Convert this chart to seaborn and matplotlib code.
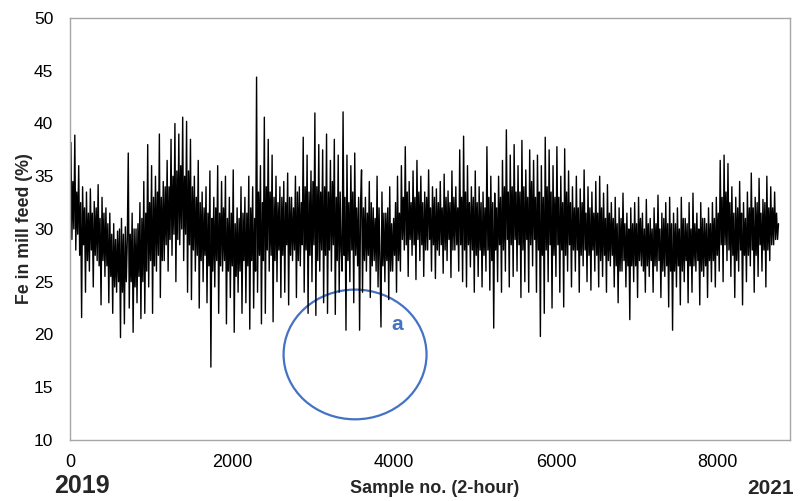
import numpy as np
import pandas as pd
import matplotlib
matplotlib.use("Agg")
import matplotlib.pyplot as plt
from matplotlib.patches import Ellipse
import seaborn as sns

# Fe content of the mill feed, one reading every 12 samples (2-hour sampling)
SAMPLE_STEP = 12
fe_in_feed = [
    31.5, 38.2, 29.0, 34.5, 30.0, 38.9, 28.0, 33.5, 29.5, 36.0, 27.5, 32.5, 21.6, 34.0, 28.5, 32.0, 24.0, 33.5, 27.0, 31.5,
    26.0, 33.8, 28.0, 31.5, 24.5, 32.6, 27.5, 32.0, 27.0, 34.2, 26.5, 31.0, 22.8, 33.0, 27.0, 31.5, 25.5, 32.0, 26.5, 30.5,
    23.0, 31.5, 25.5, 29.5, 22.0, 30.5, 24.5, 29.0, 24.0, 29.8, 25.0, 30.0, 19.7, 31.0, 24.0, 29.5, 21.0, 30.2, 25.0, 29.0,
    37.2, 22.5, 29.5, 25.0, 31.5, 20.2, 30.0, 24.5, 30.0, 23.0, 30.5, 25.5, 32.5, 21.5, 31.0, 25.0, 34.5, 22.0, 31.5, 26.0,
    38.0, 24.5, 32.5, 27.0, 36.0, 22.0, 33.0, 26.5, 35.0, 26.0, 33.5, 27.5, 39.0, 23.5, 33.0, 27.0, 34.5, 27.0, 34.0, 28.5,
    36.5, 26.0, 34.0, 29.0, 38.5, 27.5, 35.0, 29.5, 40.0, 25.0, 35.5, 29.0, 39.0, 28.5, 36.0, 30.0, 40.6, 27.0, 35.0, 29.5,
    40.2, 24.0, 35.5, 28.5, 38.5, 23.3, 34.0, 28.0, 35.0, 26.0, 33.0, 27.5, 36.5, 22.5, 32.5, 27.0, 33.5, 25.0, 32.0, 27.5,
    34.0, 23.0, 31.5, 26.5, 35.5, 16.9, 31.0, 26.0, 33.0, 24.5, 32.0, 27.0, 36.0, 22.0, 31.5, 26.5, 34.5, 26.0, 32.0, 27.0,
    35.0, 21.0, 31.0, 26.0, 33.0, 23.5, 31.5, 26.5, 35.6, 20.2, 30.5, 25.5, 32.0, 24.0, 31.0, 26.0, 34.0, 22.0, 31.5, 27.0,
    33.0, 23.0, 31.5, 26.5, 35.0, 20.5, 32.0, 27.0, 34.0, 22.5, 31.0, 26.0, 44.4, 24.0, 33.5, 27.5, 36.0, 21.0, 32.5, 27.0,
    40.6, 22.0, 34.0, 28.0, 38.5, 26.0, 33.5, 27.5, 37.0, 21.2, 33.0, 27.0, 35.0, 25.0, 32.5, 28.0, 34.0, 23.5, 33.0, 27.5,
    34.5, 24.0, 32.5, 28.5, 35.3, 22.8, 33.0, 27.5, 33.0, 27.0, 32.0, 28.0, 35.0, 23.5, 33.5, 27.0, 34.0, 26.5, 32.5, 28.5,
    38.7, 24.0, 34.0, 28.0, 37.0, 22.0, 33.5, 27.5, 35.5, 25.0, 34.5, 28.5, 41.0, 21.8, 34.0, 27.0, 38.0, 26.0, 33.5, 28.0,
    37.5, 23.0, 34.0, 27.5, 39.0, 22.0, 33.5, 28.0, 36.5, 26.0, 34.5, 28.5, 38.5, 21.9, 33.0, 27.0, 37.0, 24.0, 33.5, 28.0,
    26.0, 41.1, 27.5, 33.0, 20.4, 37.0, 27.0, 32.5, 25.0, 36.0, 28.0, 33.5, 23.0, 37.2, 27.5, 32.0, 26.5, 33.0, 20.4, 32.5,
    35.6, 24.0, 32.0, 27.0, 33.0, 26.0, 31.5, 27.5, 34.5, 23.5, 32.5, 26.5, 32.0, 27.0, 31.0, 26.0, 35.0, 24.5, 32.0, 27.0,
    20.7, 33.5, 26.5, 31.5, 25.0, 31.5, 27.0, 32.0, 23.3, 34.0, 26.0, 30.5, 26.0, 31.0, 27.5, 32.5, 24.0, 35.0, 27.0, 31.5,
    26.0, 36.0, 29.0, 33.0, 28.0, 37.8, 28.5, 33.5, 25.5, 34.5, 29.0, 32.5, 27.5, 35.5, 28.5, 33.0, 25.2, 36.5, 29.0, 33.5,
    27.0, 35.0, 28.5, 32.5, 25.5, 33.5, 28.0, 33.0, 28.0, 35.6, 29.0, 32.0, 26.0, 34.0, 28.5, 33.0, 25.3, 33.8, 28.0, 32.5,
    27.5, 34.5, 28.5, 32.0, 25.8, 35.2, 28.0, 33.0, 27.0, 33.6, 29.0, 32.5, 25.4, 35.5, 28.0, 33.0, 28.0, 34.0, 28.5, 32.0,
    26.0, 37.5, 28.5, 33.0, 25.0, 38.8, 28.0, 33.5, 24.5, 36.0, 28.5, 32.5, 26.4, 34.0, 28.0, 33.0, 24.0, 35.5, 27.5, 32.5,
    25.5, 34.0, 28.0, 32.5, 24.5, 33.5, 27.5, 32.0, 26.0, 37.8, 28.0, 33.0, 24.2, 35.0, 27.0, 32.5, 20.6, 33.4, 28.0, 32.0,
    25.0, 35.0, 28.5, 33.0, 24.0, 36.5, 28.0, 34.0, 26.0, 39.4, 29.0, 33.5, 24.5, 37.0, 28.5, 34.0, 25.5, 38.0, 29.0, 33.5,
    26.0, 36.0, 28.5, 33.5, 23.5, 38.4, 28.0, 34.0, 25.0, 35.6, 29.0, 33.0, 24.0, 37.5, 28.5, 34.5, 26.5, 36.5, 29.0, 33.0,
    24.0, 37.0, 28.0, 33.5, 19.8, 36.0, 27.5, 33.0, 22.0, 38.7, 28.0, 34.0, 25.0, 37.5, 28.5, 33.5, 22.5, 36.0, 27.5, 33.0,
    25.5, 37.8, 28.5, 33.0, 24.0, 35.0, 28.0, 32.5, 22.6, 37.6, 27.5, 33.5, 26.0, 35.5, 28.5, 32.5, 24.5, 34.0, 28.0, 32.0,
    26.0, 35.0, 28.0, 32.0, 24.0, 33.8, 27.5, 32.5, 26.5, 35.6, 28.0, 31.5, 25.0, 34.0, 27.5, 32.0, 24.2, 33.5, 28.0, 31.5,
    26.0, 34.5, 27.5, 31.5, 24.5, 35.0, 27.0, 32.0, 25.5, 33.4, 27.5, 31.0, 24.0, 34.2, 27.0, 31.5, 26.5, 32.5, 27.5, 31.0,
    24.5, 33.0, 26.5, 30.5, 23.0, 32.0, 26.0, 31.0, 26.0, 33.4, 27.0, 30.5, 24.5, 31.5, 26.5, 30.0, 21.4, 32.0, 26.5, 30.5,
    25.0, 32.5, 26.5, 30.5, 23.5, 33.0, 27.0, 31.0, 26.5, 31.5, 26.0, 30.0, 24.0, 32.8, 26.5, 30.5, 25.5, 31.0, 27.0, 30.0,
    24.0, 32.0, 26.5, 30.5, 26.0, 33.2, 27.0, 30.0, 23.5, 31.5, 26.0, 31.0, 25.5, 32.5, 26.5, 30.5, 22.6, 33.0, 26.0, 30.5,
    20.4, 31.5, 26.0, 30.5, 24.5, 32.0, 26.5, 30.0, 22.8, 33.0, 26.0, 31.0, 25.0, 31.0, 27.0, 30.5, 23.0, 32.5, 26.5, 30.0,
    24.0, 33.4, 26.5, 30.5, 26.0, 31.5, 27.0, 30.0, 22.8, 32.5, 26.0, 31.0, 25.5, 31.0, 26.5, 30.5, 23.5, 32.0, 27.0, 30.5,
    25.0, 32.5, 27.0, 31.0, 24.5, 33.0, 27.5, 31.5, 26.0, 36.5, 28.5, 33.0, 25.0, 37.0, 28.5, 33.5, 27.0, 36.2, 28.0, 32.5,
    25.5, 34.0, 27.5, 31.5, 23.5, 33.0, 27.0, 32.0, 26.0, 34.5, 28.0, 31.5, 22.8, 32.5, 27.5, 31.0, 25.0, 33.5, 27.5, 32.0,
    26.5, 35.3, 28.0, 32.0, 24.0, 33.0, 27.5, 32.5, 25.5, 34.8, 28.5, 31.5, 26.0, 32.8, 28.0, 32.5, 24.5, 35.0, 28.0, 32.0,
    27.0, 34.0, 28.5, 32.0, 28.5, 33.5, 29.0, 31.5, 29.0, 30.5,
]

y_ticks = [10, 15, 20, 25, 30, 35, 40, 45, 50]
x_ticks = [0, 2000, 4000, 6000, 8000]
x_max = 8890
start_year, end_year = "2019", "2021"

# Highlighted low-grade region "a"
region_center = (3520, 18.1)
region_size = (1765, 12.3)
region_label_pos = (4040, 20.9)

df = pd.DataFrame({
    "sample": np.arange(len(fe_in_feed)) * SAMPLE_STEP,
    "fe": fe_in_feed,
})

sns.set_style("white")
plt.rcParams["font.family"] = ["Liberation Sans", "DejaVu Sans"]

fig = plt.figure(figsize=(8.04, 5.01), dpi=100)
ax = fig.add_axes([0.087, 0.122, 0.8956, 0.842])

sns.lineplot(data=df, x="sample", y="fe", color="black", linewidth=1.0, ax=ax)

ax.set_xlim(0, x_max)
ax.set_ylim(10, 50)
ax.set_xticks(x_ticks)
ax.set_yticks(y_ticks)
ax.tick_params(axis="both", length=0, colors="black")
ax.tick_params(axis="y", labelsize=12.5, pad=12)
ax.tick_params(axis="x", labelsize=13, pad=10)
for sp in ax.spines.values():
    sp.set_color("#a6a6a6")
    sp.set_linewidth(1.0)

ax.set_xlabel("Sample no. (2-hour)", fontsize=13, fontweight="bold")
ax.xaxis.set_label_coords((435 - 70) / 720, -(480 - 440) / 422)
ax.set_ylabel("Fe in mill feed (%)", fontsize=12.8, fontweight="bold")
ax.yaxis.set_label_coords(-(70 - 33) / 720, 0.5)

ell = Ellipse(region_center, region_size[0], region_size[1], fill=False,
              edgecolor="#4472C4", linewidth=1.6)
ax.add_patch(ell)
ax.text(*region_label_pos, "a", color="#4472C4", fontsize=15, fontweight="bold",
        ha="center", va="center")

fig.text(82 / 804, 1 - 486 / 501, start_year, fontsize=18, fontweight="bold",
         ha="center", va="center")
fig.text(794 / 804, 1 - 488 / 501, end_year, fontsize=15, fontweight="bold",
         ha="right", va="center")

fig.savefig("out.png", dpi=100)
